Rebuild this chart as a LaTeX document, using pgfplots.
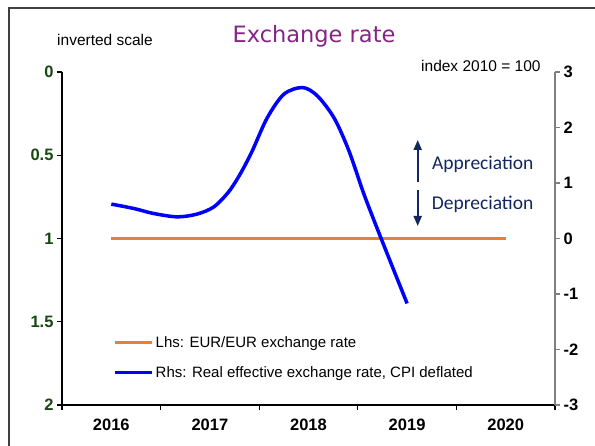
\documentclass[border=0pt]{standalone}
\usepackage{pgfplots}
\pgfplotsset{compat=1.18}
\usepackage{fontspec}
\setmainfont{Liberation Sans}
\newfontfamily\titlefont{DejaVu Sans}
\newfontfamily\calfont{Carlito}
\usetikzlibrary{arrows.meta}

\definecolor{leftgreen}{RGB}{22,72,16}
\definecolor{orangec}{RGB}{237,125,49}
\definecolor{titlepurple}{RGB}{135,35,135}
\definecolor{navy}{RGB}{18,38,95}
\definecolor{framegray}{RGB}{64,64,64}

\begin{document}
\begin{tikzpicture}[x=1pt,y=1pt]
\useasboundingbox (0,0) rectangle (595,446);
\draw[line width=1.2pt, framegray] (9,0) -- (9,438) -- (595,438);

\pgfplotsset{
  common/.style={
    at={(62pt,41pt)}, anchor=south west,
    scale only axis, width=493pt, height=333pt,
    xmin=2015.5, xmax=2020.5,
    /pgf/number format/assume math mode=true,
    tick align=outside,
    major tick length=5pt, minor tick length=5pt,
    ticklabel style={font=\fontsize{16.5}{18}\selectfont\bfseries},
  }
}

% left axis (inverted)
\begin{axis}[common,
  axis x line*=bottom, axis y line*=left,
  ymin=0, ymax=2, y dir=reverse,
  ytick={0,0.5,1,1.5,2},
  yticklabels={0,0.5,1,1.5,2},
  xtick={2016,2017,2018,2019,2020},
  xticklabels={2016,2017,2018,2019,2020},
  xticklabel style={yshift=-5pt},
  major x tick style={draw=none},
  minor xtick={2015.5,2016.5,2017.5,2018.5,2019.5,2020.5},
  axis line style={line width=1.2pt, black, -},
  tick style={line width=1.2pt, black},
  yticklabel style={color=leftgreen},
]
\addplot[orangec, line width=3pt] coordinates {(2016,1) (2017,1) (2018,1) (2019,1) (2020,1)};
\end{axis}

% right axis
\begin{axis}[common,
  axis x line=none, axis y line*=right,
  ymin=-3, ymax=3,
  ytick={-3,-2,-1,0,1,2,3},
  yticklabels={-3,-2,-1,0,1,2,3},
  axis line style={line width=1.2pt, gray, -},
  ytick style={line width=1.2pt, gray},
  legend cell align=left,
  legend image code/.code={\draw[#1] (0pt,0pt) -- (37pt,0pt);},
  legend style={at={(0.1034,0.1426)}, anchor=west, draw=none, fill=none,
    inner sep=0pt, font=\fontsize{15}{17}\selectfont, row sep=18pt,
    nodes={inner sep=0pt},
    /tikz/every odd column/.append style={column sep=2pt}},
]
\addlegendimage{orangec, line width=3pt}
\addlegendentry{Lhs: EUR/EUR exchange rate}
\addplot[blue, line width=3.5pt, smooth] coordinates {
  (2016.00,0.62) (2016.23,0.54) (2016.43,0.45) (2016.67,0.39)
  (2016.87,0.44) (2017.04,0.57) (2017.19,0.84) (2017.31,1.17)
  (2017.43,1.58) (2017.58,2.17) (2017.75,2.60) (2017.94,2.72)
  (2018.09,2.57) (2018.26,2.17) (2018.41,1.58) (2018.56,0.81)
  (2018.73,0.03) (2019.00,-1.17)};
\addlegendentry{Rhs: Real effective exchange rate, CPI deflated}
\end{axis}

\node[anchor=base west, inner sep=0pt, font=\fontsize{15.5}{17}\selectfont] at (57,400) {inverted scale};
\node[anchor=base west, inner sep=0pt, font=\fontsize{15.5}{17}\selectfont] at (421,374) {index 2010 = 100};
\node[anchor=base, inner sep=0pt, font=\titlefont\fontsize{22.5}{25}\selectfont, text=titlepurple] at (314,403.7) {Exchange rate};
\node[anchor=base west, inner sep=0pt, font=\calfont\fontsize{19.5}{22}\selectfont, text=navy] at (432,276) {Appreciation};
\node[anchor=base west, inner sep=0pt, font=\calfont\fontsize{19.5}{22}\selectfont, text=navy] at (431.7,236.7) {Depreciation};
\draw[navy, line width=2pt, -{Triangle[length=10pt,width=8pt]}] (417.7,264) -- (417.7,306);
\draw[navy, line width=2pt, -{Triangle[length=10pt,width=8pt]}] (417.7,256) -- (417.7,220);
\end{tikzpicture}
\end{document}
